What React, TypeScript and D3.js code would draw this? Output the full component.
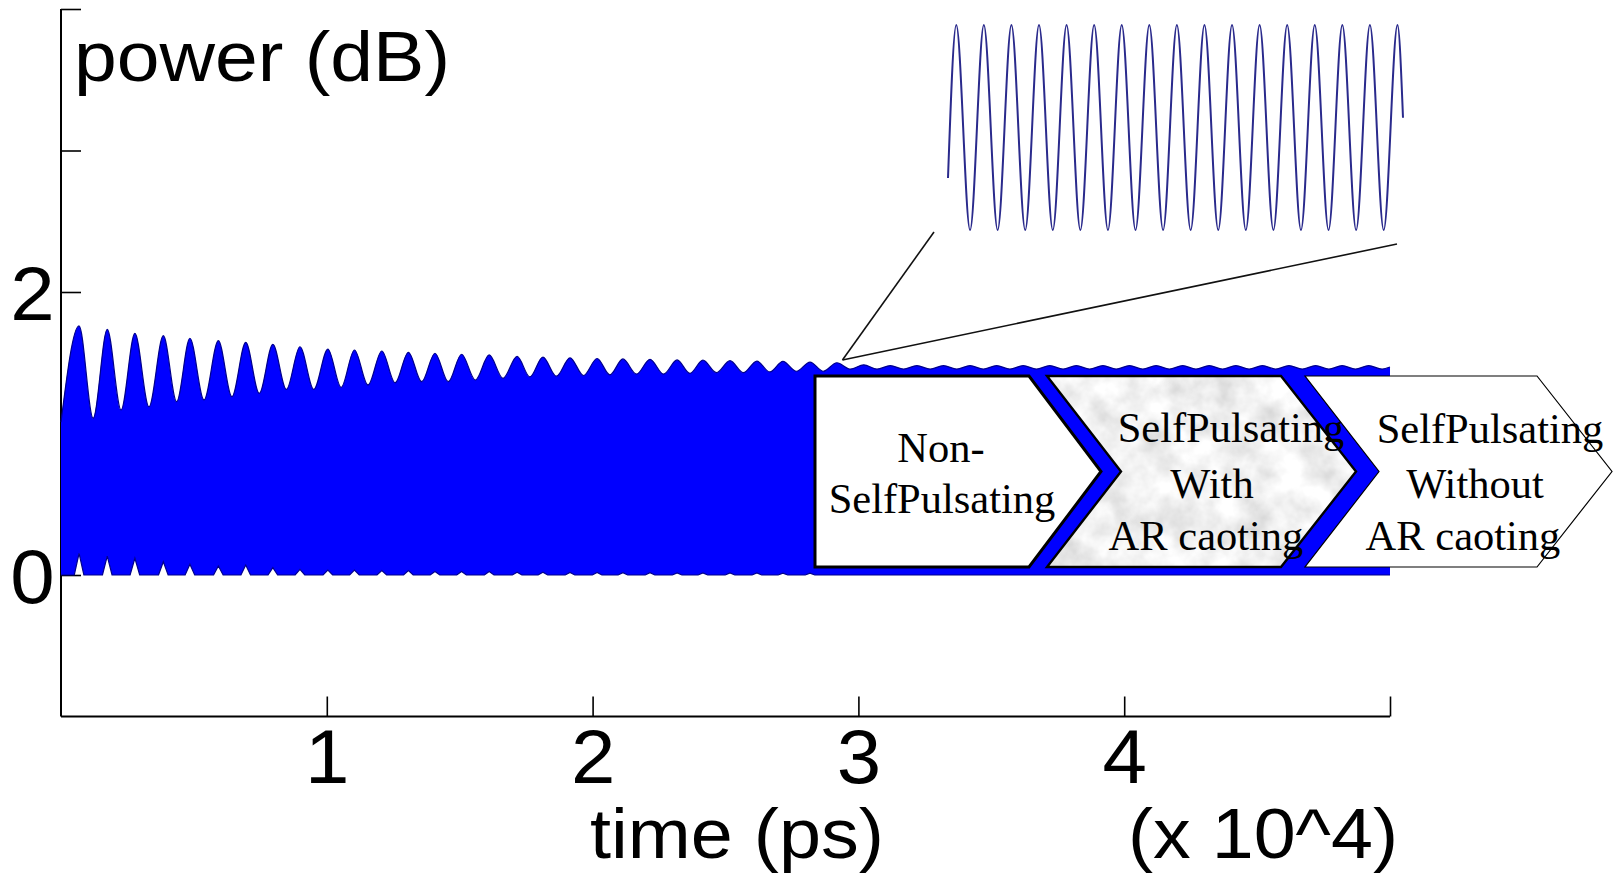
import React, { useEffect, useRef } from 'react';
import * as d3 from 'd3';

const W = 1615;
const H = 874;

// time is in units of 10^4 ps, power in dB
const xTicks = [1, 2, 3, 4, 5];
const xTickLabels = ['1', '2', '3', '4', ''];
const yTicks = [0, 1, 2, 3, 4];
const yTickLabels = ['0', '', '2', '', ''];

// upper envelope of the fast oscillation: relaxation peaks and valleys
const peakTime = [
  0.068, 0.174, 0.278, 0.385, 0.485, 0.592, 0.695, 0.797, 0.899, 1.004, 1.104, 1.207, 1.307, 1.407, 1.507,
  1.611, 1.716, 1.813, 1.915, 2.017, 2.114, 2.216, 2.318, 2.415, 2.517, 2.618, 2.716, 2.818, 2.919,
  3.02, 3.12, 3.22, 3.32, 3.42, 3.52, 3.62, 3.72, 3.82, 3.92, 4.02, 4.12, 4.22, 4.32, 4.42, 4.52, 4.62,
  4.72, 4.82, 4.92
];
const peakPower = [
  1.76, 1.736, 1.708, 1.691, 1.673, 1.656, 1.644, 1.63, 1.613, 1.597, 1.59, 1.583, 1.574, 1.567, 1.56,
  1.555, 1.545, 1.54, 1.535, 1.53, 1.527, 1.524, 1.52, 1.518, 1.515, 1.512, 1.51, 1.505, 1.5,
  1.485, 1.48, 1.48, 1.48, 1.48, 1.48, 1.48, 1.48, 1.48, 1.48, 1.48, 1.48, 1.48, 1.48, 1.48, 1.48, 1.48,
  1.48, 1.48, 1.48
];
const valleyTime = [
  0.121, 0.226, 0.331, 0.435, 0.538, 0.643, 0.746, 0.848, 0.951, 1.054, 1.155, 1.257, 1.357, 1.457, 1.559,
  1.663, 1.764, 1.864, 1.966, 2.065, 2.165, 2.267, 2.366, 2.466, 2.567, 2.667, 2.767, 2.868,
  2.97, 3.07, 3.17, 3.27, 3.37, 3.47, 3.57, 3.67, 3.77, 3.87, 3.97, 4.07, 4.17, 4.27, 4.37, 4.47, 4.57,
  4.67, 4.77, 4.87, 4.97
];
const valleyPower = [
  1.107, 1.166, 1.189, 1.225, 1.237, 1.26, 1.284, 1.312, 1.312, 1.326, 1.343, 1.359, 1.366, 1.366, 1.378,
  1.39, 1.4, 1.405, 1.41, 1.415, 1.42, 1.42, 1.425, 1.43, 1.43, 1.435, 1.44, 1.44,
  1.455, 1.455, 1.455, 1.455, 1.455, 1.455, 1.455, 1.455, 1.455, 1.455, 1.455, 1.455, 1.455, 1.455, 1.455,
  1.455, 1.455, 1.455, 1.455, 1.455, 1.455
];
const startPower = 1.08;
const endPower = 1.47;

// lower envelope: floor with small notches at the relaxation peaks
const floorPower = 0;
const notchTime = [
  0.068, 0.174, 0.278, 0.385, 0.485, 0.592, 0.695, 0.797, 0.899, 1.004, 1.104, 1.207, 1.307, 1.407,
  1.507, 1.611, 1.716, 1.813, 1.915, 2.017, 2.114, 2.216, 2.318, 2.415, 2.517, 2.618, 2.716, 2.818
];
const notchPower = [
  0.153, 0.134, 0.118, 0.094, 0.076, 0.064, 0.07, 0.052, 0.04, 0.035, 0.035, 0.031, 0.031, 0.024,
  0.024, 0.024, 0.02, 0.02, 0.018, 0.018, 0.016, 0.016, 0.015, 0.015, 0.014, 0.014, 0.013, 0.013
];

// zoomed inset (ps from inset start, dB)
const insetTime = [
  0, 6, 16, 26, 36, 46, 56, 66, 76, 86, 96, 106, 116, 126, 136, 146, 156, 166, 176, 186, 196, 206, 216,
  226, 236, 246, 256, 266, 276, 286, 296, 306, 316, 326, 330
];
const insetPower = [
  0.37, 1.46, 0, 1.46, 0, 1.46, 0, 1.46, 0, 1.46, 0, 1.46, 0, 1.46, 0, 1.46, 0, 1.46, 0, 1.46, 0, 1.46, 0,
  1.46, 0, 1.46, 0, 1.46, 0, 1.46, 0, 1.46, 0, 1.46, 0.8
];
const zoomAnchor = [2.94, 1.52];

const stageText = [
  ['Non-', 'SelfPulsating'],
  ['SelfPulsating', 'With', 'AR caoting'],
  ['SelfPulsating', 'Without', 'AR caoting']
];

const x = d3.scaleLinear().domain([0, 5]).range([61, 1390]);
const y = d3.scaleLinear().domain([-1, 4]).range([716.5, 9]);
const ix = d3.scaleLinear().domain([0, 330]).range([948, 1403]);
const iy = d3.scaleLinear().domain([0, 1.46]).range([230, 25]);

// chevron layout
const boxTop = 376, boxBot = 567, boxMid = 471.5;
const boxes = [
  { l: 815, r: 1029, tip: 1101, notch: null, stroke: 3, fill: '#fff' },
  { l: 1047, r: 1281, tip: 1356, notch: 1121, stroke: 2.4, fill: 'url(#marbleFill)' },
  { l: 1305, r: 1537, tip: 1612, notch: 1379, stroke: 1.2, fill: '#fff' }
];
const textPos = [
  [[941, 462], [942, 513]],
  [[1231, 442], [1212, 498], [1206, 550]],
  [[1490, 443], [1475, 498], [1463, 550]]
];

function chevron(b) {
  const pts = [[b.l, boxTop], [b.r, boxTop], [b.tip, boxMid], [b.r, boxBot], [b.l, boxBot]];
  if (b.notch !== null) pts.push([b.notch, boxMid]);
  return 'M' + pts.map(p => p.join(',')).join('L') + 'Z';
}

function Axes() {
  const xRef = useRef(null);
  const yRef = useRef(null);
  useEffect(() => {
    const xAxis = d3
      .axisBottom(x)
      .tickValues(xTicks)
      .tickFormat((d, i) => xTickLabels[i])
      .tickSizeInner(-20)
      .tickSizeOuter(0);
    const gx = d3.select(xRef.current);
    gx.selectAll('*').remove();
    gx.call(xAxis);
    gx.select('.domain').attr('d', `M${x(0)},0H${x(5)}`);
    gx.selectAll('line').attr('stroke', '#000').attr('stroke-width', 1.6);
    gx.selectAll('path').attr('stroke', '#000').attr('stroke-width', 2);
    gx.selectAll('text')
      .attr('y', 66.5)
      .attr('dy', null)
      .attr('transform', 'scale(1.05,1)')
      .style('font-size', '76px')
      .style('font-family', 'Liberation Sans, Arial, sans-serif')
      .attr('fill', '#000');

    const yAxis = d3
      .axisLeft(y)
      .tickValues(yTicks)
      .tickFormat((d, i) => yTickLabels[i])
      .tickSizeInner(-20)
      .tickSizeOuter(0);
    const gy = d3.select(yRef.current);
    gy.selectAll('*').remove();
    gy.call(yAxis);
    gy.select('.domain').attr('d', `M0,${y(4)}V${y(-1)}`);
    gy.selectAll('line').attr('stroke', '#000').attr('stroke-width', 1.6);
    gy.selectAll('path').attr('stroke', '#000').attr('stroke-width', 2);
    gy.selectAll('text')
      .attr('x', -6)
      .attr('y', 27)
      .attr('dy', null)
      .attr('transform', 'scale(1.05,1)')
      .style('font-size', '76px')
      .style('font-family', 'Liberation Sans, Arial, sans-serif')
      .attr('fill', '#000');
  }, []);
  return (
    <g>
      <g ref={xRef} transform={`translate(0,${y(-1)})`} />
      <g ref={yRef} transform={`translate(${x(0)},0)`} />
    </g>
  );
}

export default function App() {
  const upper = [[0, startPower]]
    .concat(peakTime.map((t, i) => [t, peakPower[i]]))
    .concat(valleyTime.map((t, i) => [t, valleyPower[i]]))
    .concat([[5, endPower]])
    .sort((a, b) => a[0] - b[0]);

  const hw = 0.018;
  const lower = [[0, floorPower]];
  notchTime.forEach((t, i) => {
    lower.push([t - hw, floorPower], [t, notchPower[i]], [t + hw, floorPower]);
  });
  lower.push([5, floorPower]);

  const upperLine = d3
    .line()
    .x(d => x(d[0]))
    .y(d => y(d[1]))
    .curve(d3.curveMonotoneX);
  const lowerLine = d3
    .line()
    .x(d => x(d[0]))
    .y(d => y(d[1]));
  const upPath = upperLine(upper);
  const lowRev = lowerLine(lower.slice().reverse());
  const bandPath = `${upPath}L${lowRev.slice(1)}Z`;

  const insetLine = d3
    .line()
    .x((d, i) => ix(insetTime[i]))
    .y(d => iy(d))
    .curve(d3.curveMonotoneX);

  const ax = x(zoomAnchor[0]);
  const ay = y(zoomAnchor[1]);

  const sans = 'Liberation Sans, Arial, sans-serif';
  const serif = 'Liberation Serif, Times New Roman, serif';

  return (
    <svg width={W} height={H} style={{ position: 'absolute', left: 0, top: 0, background: '#fff' }}>
      <defs>
        <filter id="marble" x="0" y="0" width="100%" height="100%">
          <feTurbulence type="fractalNoise" baseFrequency="0.03" numOctaves="4" seed="7" result="n" />
          <feColorMatrix
            in="n"
            type="matrix"
            values="0.6 0 0 0 0.58  0.6 0 0 0 0.58  0.6 0 0 0 0.58  0 0 0 0 1"
          />
        </filter>
        <pattern id="marbleFill" patternUnits="userSpaceOnUse" x="1040" y="370" width="330" height="205">
          <rect width="330" height="205" filter="url(#marble)" />
        </pattern>
      </defs>

      <Axes />

      {/* signal band */}
      <path d={bandPath} fill="#0000ff" stroke="none" />
      <path d={upPath} fill="none" stroke="#00008c" strokeWidth={1.2} />
      <path d={lowerLine(lower)} fill="none" stroke="#00008c" strokeWidth={1.2} />

      {/* inset */}
      <path d={insetLine(insetPower)} fill="none" stroke="#2a2a8c" strokeWidth={2} />
      <line x1={ax} y1={ay} x2={934} y2={232} stroke="#111" strokeWidth={1.6} />
      <line x1={ax} y1={ay} x2={1397} y2={244} stroke="#111" strokeWidth={1.6} />

      {/* chevrons */}
      {boxes.map((b, i) => (
        <g key={i}>
          <path d={chevron(b)} fill={b.fill} stroke="#000" strokeWidth={b.stroke} strokeLinejoin="miter" />
          {stageText[i].map((s, j) => (
            <text
              key={j}
              x={textPos[i][j][0]}
              y={textPos[i][j][1]}
              textAnchor="middle"
              style={{ fontFamily: serif, fontSize: 42.5, fill: '#000' }}
            >
              {s}
            </text>
          ))}
        </g>
      ))}

      {/* axis labels */}
      <text x={74} y={81} textLength={376} lengthAdjust="spacingAndGlyphs" style={{ fontFamily: sans, fontSize: 70 }}>
        power (dB)
      </text>
      <text x={590} y={858} textLength={294} lengthAdjust="spacingAndGlyphs" style={{ fontFamily: sans, fontSize: 70 }}>
        time (ps)
      </text>
      <text x={1128} y={858} textLength={270} lengthAdjust="spacingAndGlyphs" style={{ fontFamily: sans, fontSize: 70 }}>
        (x 10^4)
      </text>
    </svg>
  );
}
